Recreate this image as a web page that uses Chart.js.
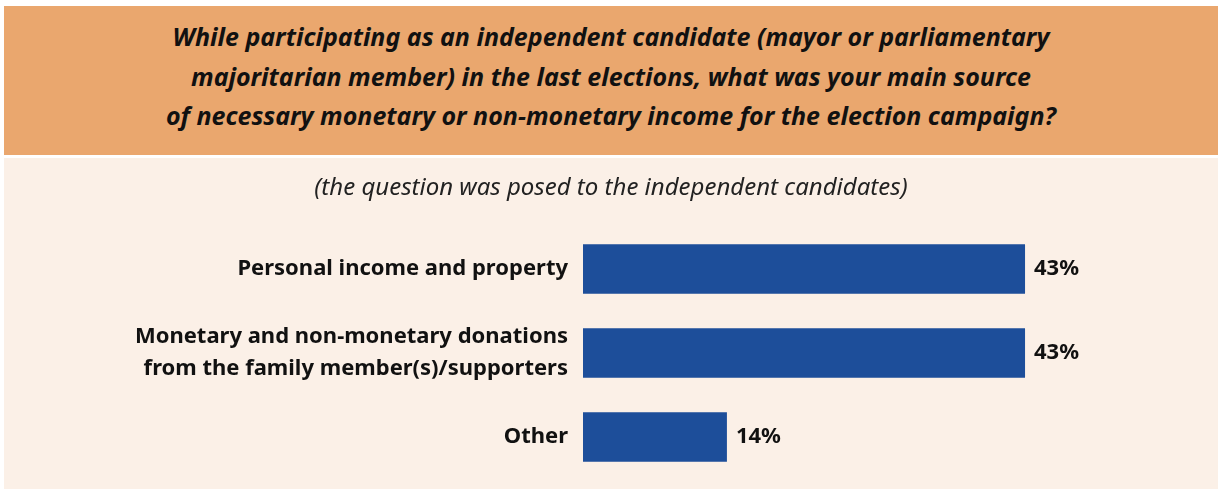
<!DOCTYPE html>
<html>
<head>
<meta charset="utf-8">
<script src="https://cdn.jsdelivr.net/npm/chart.js@4.4.0/dist/chart.umd.min.js"></script>
<style>
  html, body { margin: 0; padding: 0; background: #fff; }
  body { width: 1218px; height: 489px; position: relative; overflow: hidden; font-family: "Noto Sans", sans-serif; }
  .header {
    position: absolute; left: 4px; top: 6px; width: 1214px; height: 149px;
    background: #eaa76e; color: #111;
    font-weight: bold; font-style: italic; font-size: 25px; line-height: 39.5px;
    text-align: center; box-sizing: border-box; padding-top: 11px;
  }
  .panel {
    position: absolute; left: 4px; top: 158px; width: 1214px; height: 331px;
    background: #fbf0e7;
  }
  .subtitle {
    position: absolute; left: 0; top: 11px; width: 100%;
    text-align: center; font-style: italic; font-size: 24px; color: #222;
  }
  canvas { position: absolute; left: 0; top: 0; }
</style>
</head>
<body>
<div class="header">
  While participating as an independent candidate (mayor or parliamentary<br>
  majoritarian member) in the last elections, what was your main source<br>
  of necessary monetary or non-monetary income for the election campaign?
</div>
<div class="panel">
  <canvas id="barChart" width="1214" height="331"></canvas>
  <div class="subtitle">(the question was posed to the independent candidates)</div>
</div>
<script>
const categories = [
  'Personal income and property',
  ['Monetary and non-monetary donations', 'from the family member(s)/supporters'],
  'Other'
];
const shares = [43, 43, 14];

// value labels at the end of each bar
const valueLabels = {
  id: 'valueLabels',
  afterDatasetsDraw(chart) {
    const ctx = chart.ctx;
    ctx.save();
    ctx.font = 'bold 22px "Noto Sans"';
    ctx.fillStyle = '#111';
    ctx.textBaseline = 'middle';
    chart.getDatasetMeta(0).data.forEach((bar, i) => {
      ctx.fillText(shares[i] + '%', bar.x + 9, bar.y);
    });
    ctx.restore();
  }
};

const ctx = document.getElementById('barChart').getContext('2d');
new Chart(ctx, {
  type: 'bar',
  data: {
    labels: categories,
    datasets: [{
      data: shares,
      backgroundColor: '#1d4e9a',
      borderWidth: 0,
      categoryPercentage: 1,
      barPercentage: 0.59
    }]
  },
  options: {
    indexAxis: 'y',
    responsive: false,
    animation: false,
    layout: { padding: { top: 69, bottom: 10, right: 121 } },
    plugins: {
      legend: { display: false },
      tooltip: { enabled: false }
    },
    scales: {
      x: { display: false, min: 0, max: 50 },
      y: {
        grid: { display: false, drawTicks: false },
        border: { display: false },
        afterFit(scale) {
          scale.width = 579;
          scale.paddingTop = 0;
          scale.paddingBottom = 0;
        },
        ticks: {
          padding: 15,
          color: '#111',
          font: { family: 'Noto Sans', weight: 'bold', size: 22, lineHeight: 1.45 }
        }
      }
    }
  },
  plugins: [valueLabels]
});
</script>
</body>
</html>
